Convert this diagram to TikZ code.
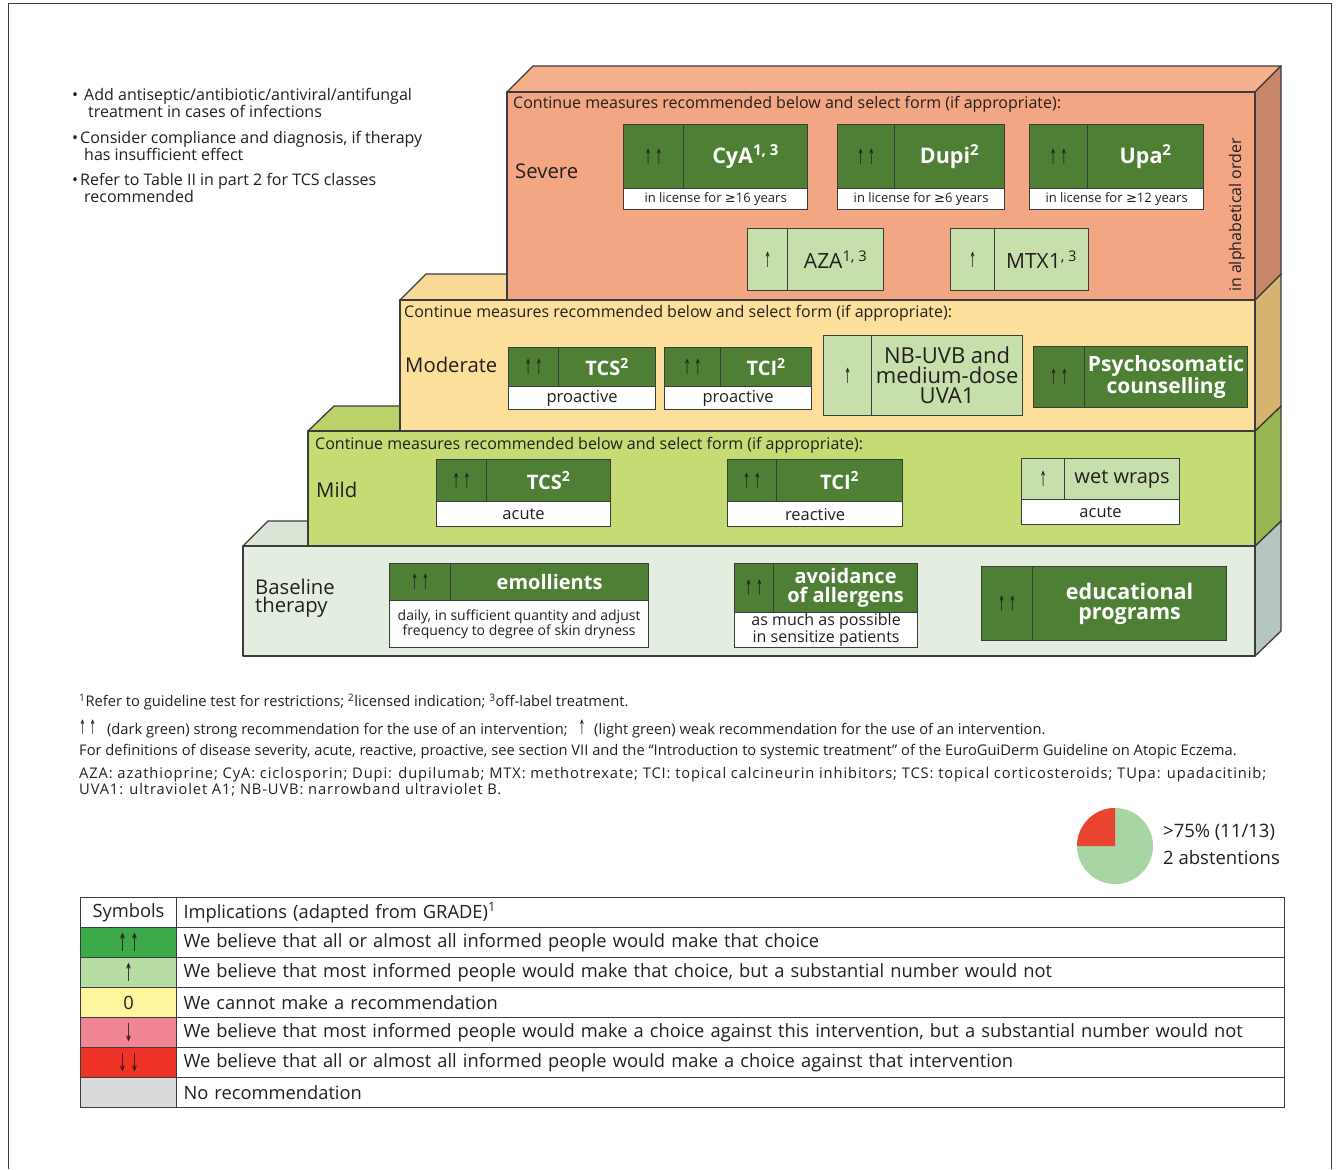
\documentclass[tikz,border=0pt]{standalone}
\usepackage{fontspec}
\usepackage{graphicx}
\setmainfont{Open Sans}
\newfontfamily\sym{DejaVu Sans}
\newfontfamily\widefont{Open Sans}[LetterSpace=6]
\definecolor{sevF}{HTML}{F2A683}
\definecolor{sevT}{HTML}{F4B08C}
\definecolor{sevS}{HTML}{C8876B}
\definecolor{modF}{HTML}{FBDF9B}
\definecolor{modT}{HTML}{F8D998}
\definecolor{modS}{HTML}{D6B46F}
\definecolor{mildF}{HTML}{C5DB74}
\definecolor{mildT}{HTML}{BBD26B}
\definecolor{mildS}{HTML}{9AB650}
\definecolor{baseF}{HTML}{E3EEE1}
\definecolor{baseT}{HTML}{D9E6D6}
\definecolor{baseS}{HTML}{B6C5BE}
\definecolor{dkgreen}{HTML}{4E7F35}
\definecolor{ltgreen}{HTML}{C6DFAB}
\definecolor{edge}{HTML}{3C3C3C}
\definecolor{txt}{HTML}{231F20}
\definecolor{tA}{HTML}{3DAA49}
\definecolor{tB}{HTML}{B7DDA5}
\definecolor{tC}{HTML}{FFF59E}
\definecolor{tD}{HTML}{F18593}
\definecolor{tE}{HTML}{EE3226}
\definecolor{tF}{HTML}{D9DADC}
\definecolor{pieG}{HTML}{A8D5A4}
\definecolor{pieR}{HTML}{E9442F}
\newcommand\fs[2]{\fontsize{#1}{#2}\selectfont}
\newcommand\onearr[1]{\scalebox{0.55}[1.35]{\sym #1}}
\newcommand\myup{\onearr{↑}}
\newcommand\myuu{\onearr{↑}\kern3.5pt\onearr{↑}}
\newcommand\mydn{\onearr{↓}}
\newcommand\mydd{\onearr{↓}\kern3.5pt\onearr{↓}}
\newcommand\myge{{\sym ≥}}
\newcommand\sups[1]{\textsuperscript{#1}}
% name, x1, xdiv, x2, ytop, ybot, label style, arrow, label
\newcommand\twocell[9]{%
 \pgfmathsetmacro\wa{#3-#2}\pgfmathsetmacro\wb{#4-#3}\pgfmathsetmacro\hh{#6-#5}%
 \node[cell,#7,minimum width=\wa pt,minimum height=\hh pt,anchor=north west,font=\fs{15.5}{15},text=txt] (#1a) at (#2,#5) {#8};%
 \node[cell,#7,minimum width=\wb pt,minimum height=\hh pt,anchor=north west] (#1b) at (#3,#5) {#9};%
}
% name, x1, x2, ytop, ybot, font, text
\newcommand\subcell[7]{%
 \pgfmathsetmacro\wa{#3-#2}\pgfmathsetmacro\hh{#5-#4}%
 \node[cell,fill=white,minimum width=\wa pt,minimum height=\hh pt,anchor=north west,font=#6] (#1) at (#2,#4) {#7};%
}
\newcommand\trow[5]{% name, ytop, fill, symbol, text
 \node[tcell,fill=#3,minimum width=96pt,anchor=north west,align=center] (#1s) at (80,#2) {#4};%
 \node[tcell,text width=1094pt,anchor=north west,align=left,inner xsep=7pt] (#1t) at (176,#2) {#5};%
}
\begin{document}
\begin{tikzpicture}[x=1pt,y=-1pt,
  blk/.style={draw=edge,line width=1.3pt,line join=round},
  cell/.style={draw=edge,line width=1.2pt,inner sep=0pt,align=center,text=txt},
  dkw/.style={fill=dkgreen,text=white},
  lt/.style={fill=ltgreen},
  tcell/.style={draw=edge,line width=1pt,minimum height=30pt,inner ysep=0pt,font=\fs{18.3}{20},text=txt},
  lab/.style={anchor=west,inner sep=0pt,text=txt},
  cont/.style={anchor=west,inner sep=0pt,text=txt,font=\fs{16}{17}},
  foot/.style={anchor=west,inner sep=0pt,text=txt,font=\fs{14.7}{15}}]
\useasboundingbox (0,0) rectangle (1340,1169);
\draw[edge,line width=1pt] (8,1169) -- (8,4) -- (1331,4) -- (1331,1169);

% bullets
\node[lab,anchor=north west,font=\fs{16}{17},align=left] (b1) at (72,88) {•\hspace{6pt}Add antiseptic/antibiotic/antiviral/antifungal\\\hspace{16pt}treatment in cases of infections};
\node[lab,anchor=north west,font=\fs{16}{17},align=left] (b2) at (72,131) {•\hspace{2pt}Consider compliance and diagnosis, if therapy\\\hspace{12pt}has insufficient effect};
\node[lab,anchor=north west,font=\fs{16}{17},align=left] (b3) at (72,173) {•\hspace{2pt}Refer to Table II in part 2 for TCS classes\\\hspace{12pt}recommended};

% baseline block
\filldraw[blk,fill=baseT] (243,546) -- (268,521) -- (1281,521) -- (1255,546) -- cycle;
\filldraw[blk,fill=baseS] (1255,546) -- (1281,521) -- (1281,631) -- (1255,656) -- cycle;
\filldraw[blk,fill=baseF] (243,546) rectangle (1255,656);
% mild block
\filldraw[blk,fill=mildT] (308,431) -- (334,406) -- (1281,406) -- (1255,431) -- cycle;
\filldraw[blk,fill=mildS] (1255,431) -- (1281,406) -- (1281,521) -- (1255,546) -- cycle;
\filldraw[blk,fill=mildF] (308,431) rectangle (1255,546);
% moderate block
\filldraw[blk,fill=modT] (400,300) -- (426,274) -- (1281,274) -- (1255,300) -- cycle;
\filldraw[blk,fill=modS] (1255,300) -- (1281,274) -- (1281,406) -- (1255,431) -- cycle;
\filldraw[blk,fill=modF] (400,300) rectangle (1255,431);
% severe block
\filldraw[blk,fill=sevT] (507,92) -- (533,66) -- (1281,66) -- (1255,92) -- cycle;
\filldraw[blk,fill=sevS] (1255,92) -- (1281,66) -- (1281,274) -- (1255,300) -- cycle;
\filldraw[blk,fill=sevF] (507,92) rectangle (1255,300);

% severe content
\node[cont] (c1) at (513,104) {Continue measures recommended below and select form (if appropriate):};
\node[lab,font=\fs{20.3}{20}] (sev) at (515,171) {Severe};
\twocell{cya}{623}{683}{807}{124}{188}{dkw,font=\fs{21.5}{22}\bfseries}{\myuu}{CyA\sups{1, 3}}
\subcell{cyas}{623}{807}{188}{209}{\fs{13}{14}}{in license for \myge16 years}
\twocell{dup}{837}{894}{1004}{124}{188}{dkw,font=\fs{21.5}{22}\bfseries}{\myuu}{Dupi\sups{2}}
\subcell{dups}{837}{1004}{188}{209}{\fs{13}{14}}{in license for \myge6 years}
\twocell{upa}{1029}{1087}{1203}{124}{188}{dkw,font=\fs{21.5}{22}\bfseries}{\myuu}{Upa\sups{2}}
\subcell{upas}{1029}{1203}{188}{209}{\fs{13}{14}}{in license for \myge12 years}
\twocell{aza}{747}{787}{883}{228}{290}{lt,font=\fs{21}{21}}{\myup}{AZA\sups{1, 3}}
\twocell{mtx}{950}{994}{1088}{228}{290}{lt,font=\fs{21}{21}}{\myup}{MTX1\sups{, 3}}
\node[lab,anchor=center,rotate=90,font=\fs{16}{16}] (alpha) at (1237,215) {in alphabetical order};

% moderate content
\node[cont] (c2) at (404,313) {Continue measures recommended below and select form (if appropriate):};
\node[lab,font=\fs{20.3}{20}] (mod) at (405,365) {Moderate};
\twocell{tcsm}{508}{558}{655}{347}{386}{dkw,font=\fs{20}{20}\bfseries}{\myuu}{TCS\sups{2}}
\subcell{tcsms}{508}{655}{386}{409}{\fs{16.5}{17}}{proactive}
\twocell{tcim}{664}{720}{811}{347}{386}{dkw,font=\fs{20}{20}\bfseries}{\myuu}{TCI\sups{2}}
\subcell{tcims}{664}{811}{386}{409}{\fs{16.5}{17}}{proactive}
\twocell{uvb}{823}{871}{1022}{335}{415}{lt,font=\fs{22}{20}}{\myup}{NB-UVB and\\medium-dose\\UVA1}
\twocell{psy}{1033}{1084}{1247}{346}{407}{dkw,font=\fs{21}{19}\bfseries}{\myuu}{Psychosomatic\\counselling}

% mild content
\node[cont] (c3) at (315,445) {Continue measures recommended below and select form (if appropriate):};
\node[lab,font=\fs{20.3}{20}] (mild) at (316,490) {Mild};
\twocell{tcsl}{436}{486}{610}{459}{501}{dkw,font=\fs{20}{20}\bfseries}{\myuu}{TCS\sups{2}}
\subcell{tcsls}{436}{610}{501}{526}{\fs{16.5}{17}}{acute}
\twocell{tcil}{727}{776}{902}{459}{501}{dkw,font=\fs{20}{20}\bfseries}{\myuu}{TCI\sups{2}}
\subcell{tcils}{727}{902}{501}{526}{\fs{16.5}{17}}{reactive}
\twocell{wet}{1021}{1064}{1179}{458}{499}{lt,font=\fs{20}{20}}{\myup}{wet wraps}
\subcell{wets}{1021}{1179}{499}{524}{\fs{16.5}{17}}{acute}

% baseline content
\node[lab,font=\fs{20.3}{18},align=left] (base) at (255,598) {Baseline\\therapy};
\twocell{emo}{389}{450}{648}{563}{600}{dkw,font=\fs{20}{20}\bfseries}{\myuu}{emollients}
\subcell{emos}{389}{648}{600}{647}{\fs{14}{15}}{daily, in sufficient quantity and adjust\\frequency to degree of skin dryness}
\twocell{avo}{734}{773}{917}{563}{612}{dkw,font=\fs{20}{19}\bfseries}{\myuu}{avoidance\\of allergens}
\subcell{avos}{734}{917}{612}{647}{\fs{16}{15}}{as much as possible\\in sensitize patients}
\twocell{edu}{981}{1032}{1226}{566}{640}{dkw,font=\fs{21.5}{20}\bfseries}{\myuu}{educational\\programs}

% footnotes
\node[foot] (f1) at (79,702) {\sups{1}Refer to guideline test for restrictions; \sups{2}licensed indication; \sups{3}off-label treatment.};
\node[foot] (f2) at (79,729) {\myuu\hspace{7pt} (dark green) strong recommendation for the use of an intervention;\hspace{7pt} \myup\hspace{5pt} (light green) weak recommendation for the use of an intervention.};
\node[foot] (f3) at (79,752) {For definitions of disease severity, acute, reactive, proactive, see section VII and the “Introduction to systemic treatment” of the EuroGuiDerm Guideline on Atopic Eczema.};
\node[foot,anchor=north west,align=left,font=\fs{14.7}{14}\widefont] (f4) at (79,767) {AZA: azathioprine; CyA: ciclosporin; Dupi: dupilumab; MTX: methotrexate; TCI: topical calcineurin inhibitors; TCS: topical corticosteroids; TUpa: upadacitinib;\\UVA1: ultraviolet A1; NB-UVB: narrowband ultraviolet B.};

% pie
\fill[pieG] (1115,846) circle[radius=38];
\fill[pieR] (1115,846) -- (1077,846) arc[start angle=180,end angle=270,radius=38] -- cycle;
\node[lab,font=\fs{18.5}{18}] (p1) at (1163,832) {>75\% (11/13)};
\node[lab,font=\fs{18.5}{18}] (p2) at (1163,858) {2 abstentions};

% table
\trow{h}{897}{white}{Symbols}{Implications (adapted from GRADE)\sups{1}}
\trow{r1}{927}{tA}{\myuu}{We believe that all or almost all informed people would make that choice}
\trow{r2}{957}{tB}{\myup}{We believe that most informed people would make that choice, but a substantial number would not}
\trow{r3}{987}{tC}{0}{We cannot make a recommendation}
\trow{r4}{1017}{tD}{\mydn}{We believe that most informed people would make a choice against this intervention, but a substantial number would not}
\trow{r5}{1047}{tE}{\mydd}{We believe that all or almost all informed people would make a choice against that intervention}
\trow{r6}{1077}{tF}{}{No recommendation}
\end{tikzpicture}
\end{document}
